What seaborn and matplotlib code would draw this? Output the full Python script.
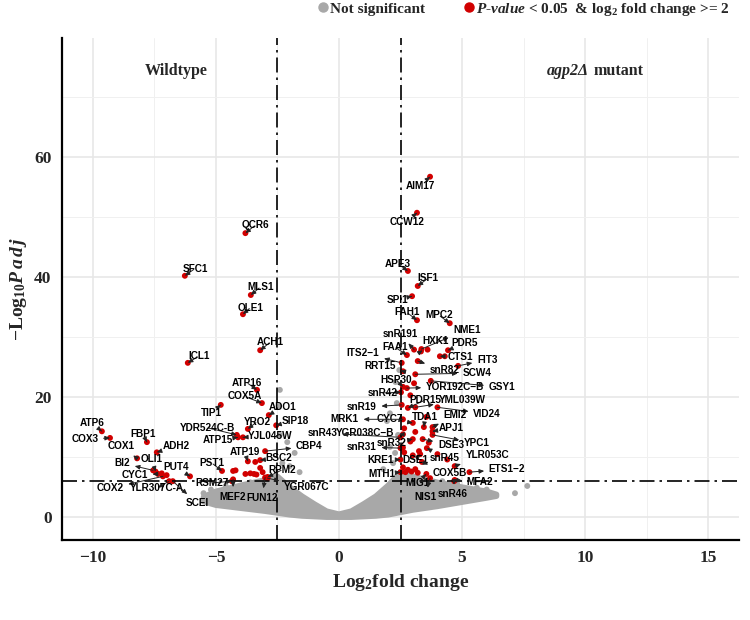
import numpy as np
import pandas as pd
import matplotlib
matplotlib.use("Agg")
import matplotlib.pyplot as plt
import seaborn as sns
from matplotlib.lines import Line2D

# ---------------- data ----------------
genes = ["ATP6", "COX3", "FBP1", "COX1", "ADH2", "BI2", "OLI1", "CYC1", "COX2",
         "YLR307C-A", "SCEI", "PUT4", "PST1", "RSM27", "MEF2", "ICL1", "TIP1",
         "YDR524C-B", "ATP15", "ATP16", "COX5A", "ADO1", "YRO2", "SIP18", "YJL045W",
         "CBP4", "ATP19", "BSC2", "RPM2", "YGR067C", "FUN12", "QCR6", "SFC1", "MLS1",
         "OLE1", "ACH1",
         "AIM17", "CCW12", "APE3", "ISF1", "SPI1", "FAH1", "MPC2", "NME1", "snR191",
         "HXK1", "PDR5", "FAA1", "CTS1", "FIT3", "ITS2\u22121", "RRT15", "snR82", "SCW4",
         "HSP30", "YOR192C\u2212B", "GSY1", "snR42", "snR19", "PDR15", "YML039W", "VID24",
         "EMI2", "TDA1", "CYC7", "MRK1", "APJ1", "YGR038C\u2212B", "snR43", "DSE3", "YPC1",
         "snR32", "snR31", "snR45", "YLR053C", "KRE1", "DSE1", "COX5B", "ETS1\u22122",
         "MTH1", "MIG1", "MFA2", "NIS1", "snR46"]
gene_lfc = [-9.63, -9.30, -7.80, -8.20, -7.40, -7.55, -7.45, -7.35, -7.15,
            -6.90, -6.75, -6.05, -4.75, -4.35, -4.30, -6.14, -4.80,
            -4.15, -4.10, -3.33, -3.13, -2.85, -3.70, -2.55, -3.90,
            -3.00, -3.70, -3.20, -2.90, -2.90, -3.00, -3.80, -6.26, -3.58,
            -3.90, -3.20,
            3.70, 3.17, 2.80, 3.20, 2.97, 3.17, 4.50, 3.35, 3.05,
            3.33, 4.43, 2.76, 4.10, 4.84, 2.55, 2.60, 3.20, 3.10,
            2.60, 2.76, 3.73, 2.52, 2.55, 2.80, 3.10, 4.00,
            3.80, 3.45, 3.00, 2.60, 3.80, 2.60, 2.50, 3.40, 3.80,
            3.00, 2.50, 3.57, 4.70, 2.50, 3.30, 3.37, 5.30,
            2.50, 3.55, 4.70, 3.70, 4.68]
gene_logp = [14.3, 13.2, 12.5, 9.8, 10.8, 7.8, 7.6, 7.2, 6.8,
             6.0, 6.0, 6.8, 7.7, 6.0, 6.3, 25.7, 18.7,
             13.7, 13.3, 21.2, 19.0, 17.0, 14.7, 15.3, 13.3,
             11.0, 9.3, 9.5, 6.7, 6.5, 6.6, 47.3, 40.2, 37.0,
             33.8, 27.8,
             56.7, 50.7, 41.0, 38.5, 36.8, 32.8, 32.3, 28.0, 27.9,
             27.6, 27.8, 27.0, 26.8, 25.2, 25.7, 24.3, 26.0, 23.8,
             21.7, 21.5, 22.7, 20.8, 18.7, 18.2, 18.3, 18.3,
             15.0, 15.0, 15.7, 16.3, 14.3, 13.8, 13.3, 13.0, 13.7,
             13.0, 11.5, 11.5, 8.5, 9.6, 10.5, 9.2, 7.5,
             7.5, 7.2, 6.2, 6.5, 6.0]

# other significant (unlabelled) genes
sig_lfc = [2.70, 2.80, 2.95, 3.10, 3.20, 2.60, 2.65, 3.00, 2.90, 3.25, 3.65, 4.00,
           4.40, 3.55, 3.10, 2.60, 2.65, 3.05, 2.90, 4.30, 3.60,
           -4.20, -3.80, -3.45, -3.40, -3.20, -3.10, -4.30, -3.60, -3.35, -7.20, -7.00]
sig_logp = [7.5, 7.9, 7.6, 8.0, 7.4, 8.3, 10.8, 10.3, 12.6, 11.0, 12.4, 10.5,
            9.6, 16.7, 14.2, 11.6, 14.8, 22.3, 20.3, 26.8, 27.9,
            7.8, 7.2, 7.2, 9.2, 8.2, 7.5, 7.7, 7.3, 7.1, 7.3, 7.0]

# scattered non-significant genes outside the dense cloud
ns_lfc = [7.15, 7.65, -5.50, -2.40, -2.40, -2.10, -1.80, -2.30, -2.00, -1.60,
          2.07, 2.28, 1.95, 2.07, 2.40, 2.35, 2.20, 1.80, 2.45, 2.30, -2.45,
          6.00, 5.60, 4.80, 4.20, 3.80, -5.20, -4.60, -3.60]
ns_logp = [4.0, 5.2, 4.0, 21.2, 13.7, 12.5, 10.7, 9.0, 8.5, 7.5,
           11.7, 10.7, 16.0, 17.3, 13.7, 19.0, 9.0, 8.0, 24.5, 22.5, 18.5,
           4.6, 4.9, 5.6, 6.0, 5.3, 4.6, 5.2, 5.8]

# outline of the dense cloud of non-significant genes
cloud_x = [-5.5, -5.0, -4.0, -3.0, -2.5, -2.0, -1.5, -1.0, -0.5, 0.0, 0.5, 1.0,
           1.5, 2.0, 2.5, 3.0, 4.0, 5.0, 6.0, 6.4]
cloud_top = [3.4, 4.3, 5.3, 6.2, 6.8, 5.0, 3.5, 2.2, 1.0, 0.5, 1.0, 2.2,
             3.5, 5.3, 7.5, 6.8, 5.8, 5.0, 4.3, 3.8]
cloud_bottom = [2.6, 2.0, 1.5, 1.0, 0.7, 0.4, 0.2, 0.1, 0.0, 0.0, 0.0, 0.1,
                0.2, 0.4, 0.8, 1.2, 1.8, 2.5, 3.2, 3.5]

# label positions (layout) and arrow style: 'p' = head on point, 'l' = head at label
label_pos = {
    "ATP6": (-10.04, 15.7, 'p'), "COX3": (-10.3, 13.0, 'p'), "FBP1": (-7.97, 13.9, 'p'),
    "COX1": (-8.86, 11.8, 'l'), "ADH2": (-6.6, 11.9, 'p'), "BI2": (-8.8, 9.0, 'l'),
    "OLI1": (-7.6, 9.7, 'p'), "CYC1": (-8.3, 7.0, 'l'), "COX2": (-9.3, 4.8, 'l'),
    "YLR307C-A": (-7.4, 4.8, 'l'), "SCEI": (-5.75, 2.3, 'l'), "PUT4": (-6.6, 8.3, 'p'),
    "PST1": (-5.16, 9.0, 'p'), "RSM27": (-5.16, 5.7, 'p'), "MEF2": (-4.3, 3.4, 'l'),
    "ICL1": (-5.7, 26.8, 'p'), "TIP1": (-5.2, 17.3, 'p'), "YDR524C-B": (-5.35, 14.9, 'p'),
    "ATP15": (-4.9, 12.8, 'p'), "ATP16": (-3.74, 22.4, 'p'), "COX5A": (-3.82, 20.1, 'p'),
    "ADO1": (-2.28, 18.4, 'p'), "YRO2": (-3.33, 15.9, 'p'), "SIP18": (-1.79, 16.1, 'p'),
    "YJL045W": (-2.8, 13.5, 'p'), "CBP4": (-1.2, 11.8, 'l'), "ATP19": (-3.82, 10.8, 'p'),
    "BSC2": (-2.45, 9.8, 'p'), "RPM2": (-2.3, 7.9, 'p'), "YGR067C": (-1.3, 5.0, 'l'),
    "FUN12": (-3.13, 3.2, 'l'), "QCR6": (-3.41, 48.6, 'p'), "SFC1": (-5.85, 41.4, 'p'),
    "MLS1": (-3.2, 38.3, 'p'), "OLE1": (-3.6, 34.9, 'p'), "ACH1": (-2.8, 29.1, 'p'),
    "AIM17": (3.3, 55.2, 'p'), "CCW12": (2.76, 49.2, 'p'), "APE3": (2.4, 42.2, 'p'),
    "ISF1": (3.62, 39.8, 'p'), "SPI1": (2.36, 36.2, 'p'), "FAH1": (2.76, 34.1, 'p'),
    "MPC2": (4.07, 33.6, 'p'), "NME1": (5.2, 31.2, 'l'), "snR191": (2.48, 30.5, 'l'),
    "HXK1": (3.94, 29.3, 'l'), "PDR5": (5.12, 29.0, 'p'), "FAA1": (2.28, 28.3, 'p'),
    "CTS1": (4.92, 26.7, 'p'), "FIT3": (6.02, 26.2, 'l'), "ITS2\u22121": (0.98, 27.3, 'l'),
    "RRT15": (1.67, 25.2, 'l'), "snR82": (4.3, 24.5, 'l'), "SCW4": (5.6, 24.0, 'l'),
    "HSP30": (2.32, 22.9, 'p'), "YOR192C\u2212B": (4.72, 21.7, 'l'), "GSY1": (6.63, 21.7, 'l'),
    "snR42": (1.79, 20.7, 'p'), "snR19": (0.93, 18.3, 'l'), "PDR15": (3.5, 19.5, 'p'),
    "YML039W": (5.0, 19.5, 'l'), "VID24": (6.02, 17.2, 'l'), "EMI2": (4.72, 17.0, 'l'),
    "TDA1": (3.5, 16.7, 'p'), "CYC7": (2.07, 16.3, 'p'), "MRK1": (0.24, 16.3, 'l'),
    "APJ1": (4.55, 14.8, 'p'), "YGR038C\u2212B": (1.06, 14.0, 'l'), "snR43": (-0.65, 14.0, 'l'),
    "DSE3": (4.55, 12.0, 'l'), "YPC1": (5.6, 12.3, 'l'), "snR32": (2.15, 12.3, 'p'),
    "snR31": (0.93, 11.7, 'l'), "snR45": (4.3, 9.8, 'p'), "YLR053C": (6.02, 10.3, 'l'),
    "KRE1": (1.67, 9.5, 'p'), "DSE1": (3.1, 9.5, 'p'), "COX5B": (4.5, 7.3, 'l'),
    "ETS1\u22122": (6.83, 8.0, 'l'), "MTH1": (1.75, 7.2, 'p'), "MIG1": (3.2, 5.7, 'p'),
    "MFA2": (5.73, 5.8, 'l'), "NIS1": (3.5, 3.3, 'l'), "snR46": (4.63, 3.8, 'l'),
}

GREY = "#A8A8A8"
RED = "#D10000"

# ---------------- style ----------------
sns.set_style("white")
plt.rcParams["mathtext.fontset"] = "custom"
plt.rcParams["mathtext.rm"] = "Liberation Serif:bold"
plt.rcParams["mathtext.bf"] = "Liberation Serif:bold"
plt.rcParams["mathtext.it"] = "Liberation Serif:italic:bold"
plt.rcParams["font.family"] = ["Liberation Serif", "DejaVu Serif"]

fig = plt.figure(figsize=(7.5, 6.2), dpi=100)
ax = fig.add_axes([62 / 750, 1 - 540 / 620, (739 - 62) / 750, (540 - 38) / 620])

ax.set_xlim(-11.25, 16.25)
ax.set_ylim(-3.8, 79.8)
ax.set_xticks([-10, -5, 0, 5, 10, 15])
ax.set_xticks([-7.5, -2.5, 2.5, 7.5, 12.5], minor=True)
ax.set_yticks([0, 20, 40, 60])
ax.set_yticks([10, 30, 50, 70], minor=True)
ax.grid(which="major", color="#E6E6E6", lw=1.1, zorder=0)
ax.grid(which="minor", color="#F0F0F0", lw=0.7, zorder=0)
ax.set_axisbelow(True)
ax.tick_params(which="minor", length=0)
ax.tick_params(which="major", length=4, width=1.0, color="black", direction="out",
               labelsize=12.5)
for lab in ax.get_xticklabels() + ax.get_yticklabels():
    lab.set_fontweight("bold")
for s in ["top", "right"]:
    ax.spines[s].set_visible(False)
for s in ["left", "bottom"]:
    ax.spines[s].set_color("black")
    ax.spines[s].set_linewidth(1.6)

# dense non-significant cloud
poly_x = list(cloud_x) + list(cloud_x)[::-1]
poly_y = list(cloud_top) + list(cloud_bottom)[::-1]
ax.fill(poly_x, poly_y, facecolor=GREY, edgecolor=GREY, lw=4, joinstyle="round", zorder=2)

ns_df = pd.DataFrame({"lfc": ns_lfc, "logp": ns_logp})
sns.scatterplot(data=ns_df, x="lfc", y="logp", color=GREY, s=18, edgecolor="none",
                ax=ax, zorder=3, legend=False)

sig_df = pd.DataFrame({"lfc": list(gene_lfc) + list(sig_lfc),
                       "logp": list(gene_logp) + list(sig_logp)})
sns.scatterplot(data=sig_df, x="lfc", y="logp", color=RED, s=18, edgecolor="none",
                ax=ax, zorder=4, legend=False)

# threshold lines
dd = (0, (9, 3, 1.5, 3))
ax.axvline(-2.5, color="black", lw=1.2, linestyle=dd, zorder=5)
ax.axvline(2.5, color="black", lw=1.2, linestyle=dd, zorder=5)
ax.axhline(6, color="black", lw=1.2, linestyle=dd, zorder=5)

# gene labels
for g, x, y in zip(genes, gene_lfc, gene_logp):
    lx, ly, head = label_pos[g]
    style = "-|>" if head == "p" else "<|-"
    ax.annotate(g, xy=(x, y), xytext=(lx, ly), ha="center", va="center",
                fontsize=7.2, fontweight="bold", family=["Liberation Sans", "DejaVu Sans"],
                color="black", zorder=6,
                arrowprops=dict(arrowstyle=style + ",head_length=0.4,head_width=0.18",
                                color="#222222", lw=0.7, shrinkA=1, shrinkB=0))

ax.text(-6.6, 74.3, "Wildtype", ha="center", va="center", fontsize=11.5, fontweight="bold")
ax.text(10.15, 74.3, "agp2\u0394", ha="right", va="center", fontsize=11.5,
        fontweight="bold", fontstyle="italic")
ax.text(10.35, 74.3, "mutant", ha="left", va="center", fontsize=11.5, fontweight="bold")

ax.set_xlabel(r"Log$_2$fold change", fontsize=14, fontweight="bold", labelpad=4)
ax.set_ylabel("\u2212Log$_{10}$$\\mathit{P\\,a\\,d\\,j}$", fontsize=14, fontweight="bold",
              labelpad=4)

handles = [Line2D([], [], marker="o", ls="", color=GREY, markersize=6.5),
           Line2D([], [], marker="o", ls="", color=RED, markersize=6.5)]
labels = ["Not significant",
          r"$\mathit{P}$-$\mathit{value}$ < 0.05  & log$_2$ fold change >= 2"]
leg = fig.legend(handles, labels, loc="center", bbox_to_anchor=(524 / 750, 1 - 9 / 620),
                 ncol=2, frameon=False, handlelength=0.6, handletextpad=0.15,
                 columnspacing=2.6,
                 prop={"weight": "bold", "size": 11, "family": "Liberation Serif"})

fig.savefig("out.png", dpi=100)
